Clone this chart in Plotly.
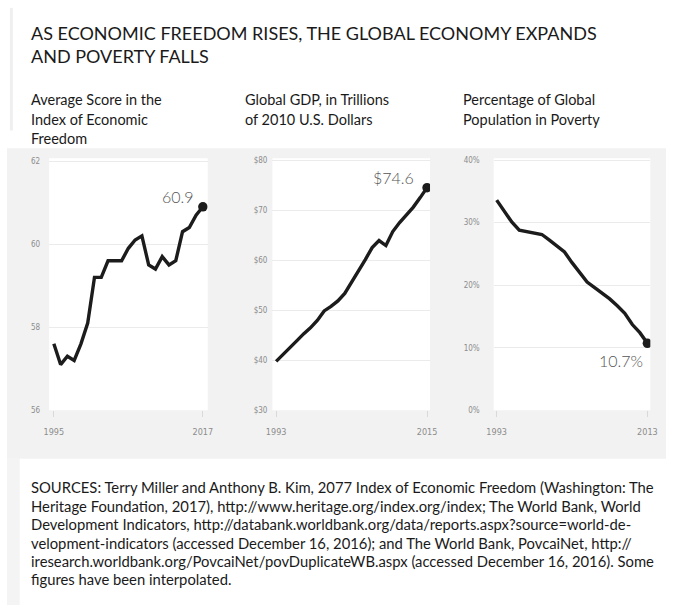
import plotly.graph_objects as go

# ---------------- data ----------------
freedom_years = list(range(1995, 2018))
freedom_score = [57.6, 57.1, 57.3, 57.2, 57.6, 58.1, 59.2, 59.2, 59.6, 59.6, 59.6, 59.9,
                 60.1, 60.2, 59.5, 59.4, 59.7, 59.5, 59.6, 60.3, 60.4, 60.7, 60.9]

gdp_years = list(range(1993, 2016))
gdp_trillions = [39.8, 41.1, 42.4, 43.9, 45.3, 46.5, 48.0, 49.9, 50.8, 51.9, 53.4, 55.6,
                 57.7, 60.2, 62.6, 64.0, 63.0, 65.8, 67.6, 69.1, 70.7, 72.6, 74.6]

poverty_years = list(range(1993, 2014))
poverty_pct = [33.6, 31.8, 30.1, 28.8, 28.6, 28.4, 28.1, 27.2, 26.3, 25.3, 23.6, 22.0,
               20.5, 19.6, 18.7, 17.8, 16.7, 15.5, 13.7, 12.4, 10.7]

freedom_ticks = [56, 58, 60, 62]
gdp_ticks = [30, 40, 50, 60, 70, 80]
poverty_ticks = [0, 10, 20, 30, 40]

title_lines = ["AS ECONOMIC FREEDOM RISES, THE GLOBAL ECONOMY EXPANDS", "AND POVERTY FALLS"]
subtitles = [
    ["Average Score in the", "Index of Economic", "Freedom"],
    ["Global GDP, in Trillions", "of 2010 U.S. Dollars"],
    ["Percentage of Global", "Population in Poverty"],
]
source_lines = [
    "SOURCES: Terry Miller and Anthony B. Kim, 2077 Index of Economic Freedom (Washington: The",
    "Heritage Foundation, 2017), http://www.heritage.org/index.org/index; The World Bank, World",
    "Development Indicators, http://databank.worldbank.org/data/reports.aspx?source=world-de-",
    "velopment-indicators (accessed December 16, 2016); and The World Bank, PovcaiNet, http://",
    "iresearch.worldbank.org/PovcaiNet/povDuplicateWB.aspx (accessed December 16, 2016). Some",
    "figures have been interpolated.",
]

# ---------------- layout helpers ----------------
W, H = 673, 610
def PX(x):
    return x / W
def PY(y):
    return 1 - y / H

TXT = "Lato, 'Open Sans', sans-serif"
TICKF = "'Liberation Sans Narrow', 'DejaVu Sans Condensed', 'Roboto', sans-serif"
LINE = "#1c1c1c"
GRID = "#ebebeb"
TICKC = "#8c8c8c"
DX = -7.5  # text x nudge

panel_top, panel_bot = 158, 413
panels = [  # (left px, right px, y-label standoff)
    (43, 205, 8),
    (271, 432, 4),
    (497, 657, 13),
]

fig = go.Figure()

series = [
    (freedom_years, freedom_score, freedom_ticks, "", "", [56, 62.07], [1994.3, 2017.72]),
    (gdp_years, gdp_trillions, gdp_ticks, "$", "", [30, 80.5], [1992.45, 2015.43]),
    (poverty_years, poverty_pct, poverty_ticks, "", "%", [0, 40.3], [1992.6, 2013.39]),
]

shapes = []
# gray band + left strip
shapes.append(dict(type="rect", xref="paper", yref="paper", x0=0, x1=1, y0=PY(462), y1=PY(148),
                   fillcolor="#f2f2f2", line_width=0, layer="below"))
shapes.append(dict(type="rect", xref="paper", yref="paper", x0=0, x1=PX(13), y0=0, y1=PY(462),
                   fillcolor="#f4f4f4", line_width=0, layer="below"))
shapes.append(dict(type="rect", xref="paper", yref="paper", x0=PX(3), x1=PX(6), y0=PY(130), y1=PY(6),
                   fillcolor="#efefef", line_width=0, layer="below"))

annotations = []
for i, (xs, ys, ticks, pre, suf, yr, xr) in enumerate(series):
    n = "" if i == 0 else str(i + 1)
    l, r, so = panels[i]
    shapes.append(dict(type="rect", xref="paper", yref="paper", x0=PX(l), x1=PX(r),
                       y0=PY(panel_bot), y1=PY(panel_top), fillcolor="white",
                       line_width=0, layer="below"))
    fig.add_trace(go.Scatter(x=xs, y=ys, mode="lines", xaxis="x" + n, yaxis="y" + n,
                             line=dict(color=LINE, width=3.4), hoverinfo="skip",
                             showlegend=False))
    fig.add_trace(go.Scatter(x=[xs[-1]], y=[ys[-1]], mode="markers", xaxis="x" + n, yaxis="y" + n,
                             marker=dict(color=LINE, size=9.5), showlegend=False))
    fig.layout["xaxis" + n] = dict(
        domain=[PX(l), PX(r)], range=xr, anchor="y" + n,
        tickvals=[xs[0], xs[-1]], ticktext=[str(xs[0]), str(xs[-1])],
        ticks="outside", ticklen=6, tickcolor="#d9d9d9", tickwidth=1,
        ticklabelstandoff=7,
        showgrid=False, zeroline=False, showline=False,
        tickfont=dict(family=TICKF, size=9, color=TICKC),
    )
    fig.layout["yaxis" + n] = dict(
        domain=[PY(panel_bot), PY(panel_top)], range=yr, anchor="x" + n,
        tickvals=ticks, ticktext=[f"{pre}{t}{suf}" for t in ticks],
        showgrid=True, gridcolor=GRID, gridwidth=1, zeroline=False, showline=False,
        ticks="", ticklabelstandoff=so,
        tickfont=dict(family=TICKF, size=8, color=TICKC),
    )

# end-value labels
end_labels = [
    (freedom_years[-1], freedom_score[-1], f"{freedom_score[-1]:.1f}", -7, 10),
    (gdp_years[-1], gdp_trillions[-1], f"${gdp_trillions[-1]:.1f}", -11, 10),
    (poverty_years[-1], poverty_pct[-1], f"{poverty_pct[-1]:.1f}%", -2, -17),
]
for i, (x, y, t, xs_, ys_) in enumerate(end_labels):
    n = "" if i == 0 else str(i + 1)
    annotations.append(dict(x=x, y=y, xref="x" + n, yref="y" + n, text=t, showarrow=False,
                            xanchor="right", yanchor="middle", xshift=xs_, yshift=ys_,
                            font=dict(family=TXT, size=16, color="#555555", weight=300)))

# title (two lines in one text block)
annotations.append(dict(x=PX(30 + DX), y=PY(42.5), xref="paper", yref="paper",
                        text="<br>".join(title_lines), align="left",
                        showarrow=False, xanchor="left", yanchor="middle",
                        font=dict(family=TXT, size=18, color="#1a1a1a")))

# subtitles
sub_x = [30, 249, 471]
for k, lines in enumerate(subtitles):
    for j, line in enumerate(lines):
        annotations.append(dict(x=PX(sub_x[k] + DX), y=PY(99 + 19.5 * j), xref="paper", yref="paper",
                                text=line, showarrow=False, xanchor="left", yanchor="middle",
                                font=dict(family=TXT, size=14.5, color="#1a1a1a")))

# sources
for j, line in enumerate(source_lines):
    annotations.append(dict(x=PX(30 + DX), y=PY(491 + 18.6 * j), xref="paper", yref="paper",
                            text=line, showarrow=False, xanchor="left", yanchor="middle",
                            font=dict(family=TXT, size=14.8, color="#1a1a1a")))

fig.update_layout(
    width=W, height=H, margin=dict(l=0, r=0, t=0, b=0),
    paper_bgcolor="white", plot_bgcolor="rgba(0,0,0,0)",
    shapes=shapes, annotations=annotations, showlegend=False,
)

fig.write_html("out.html", config={"displayModeBar": False})
